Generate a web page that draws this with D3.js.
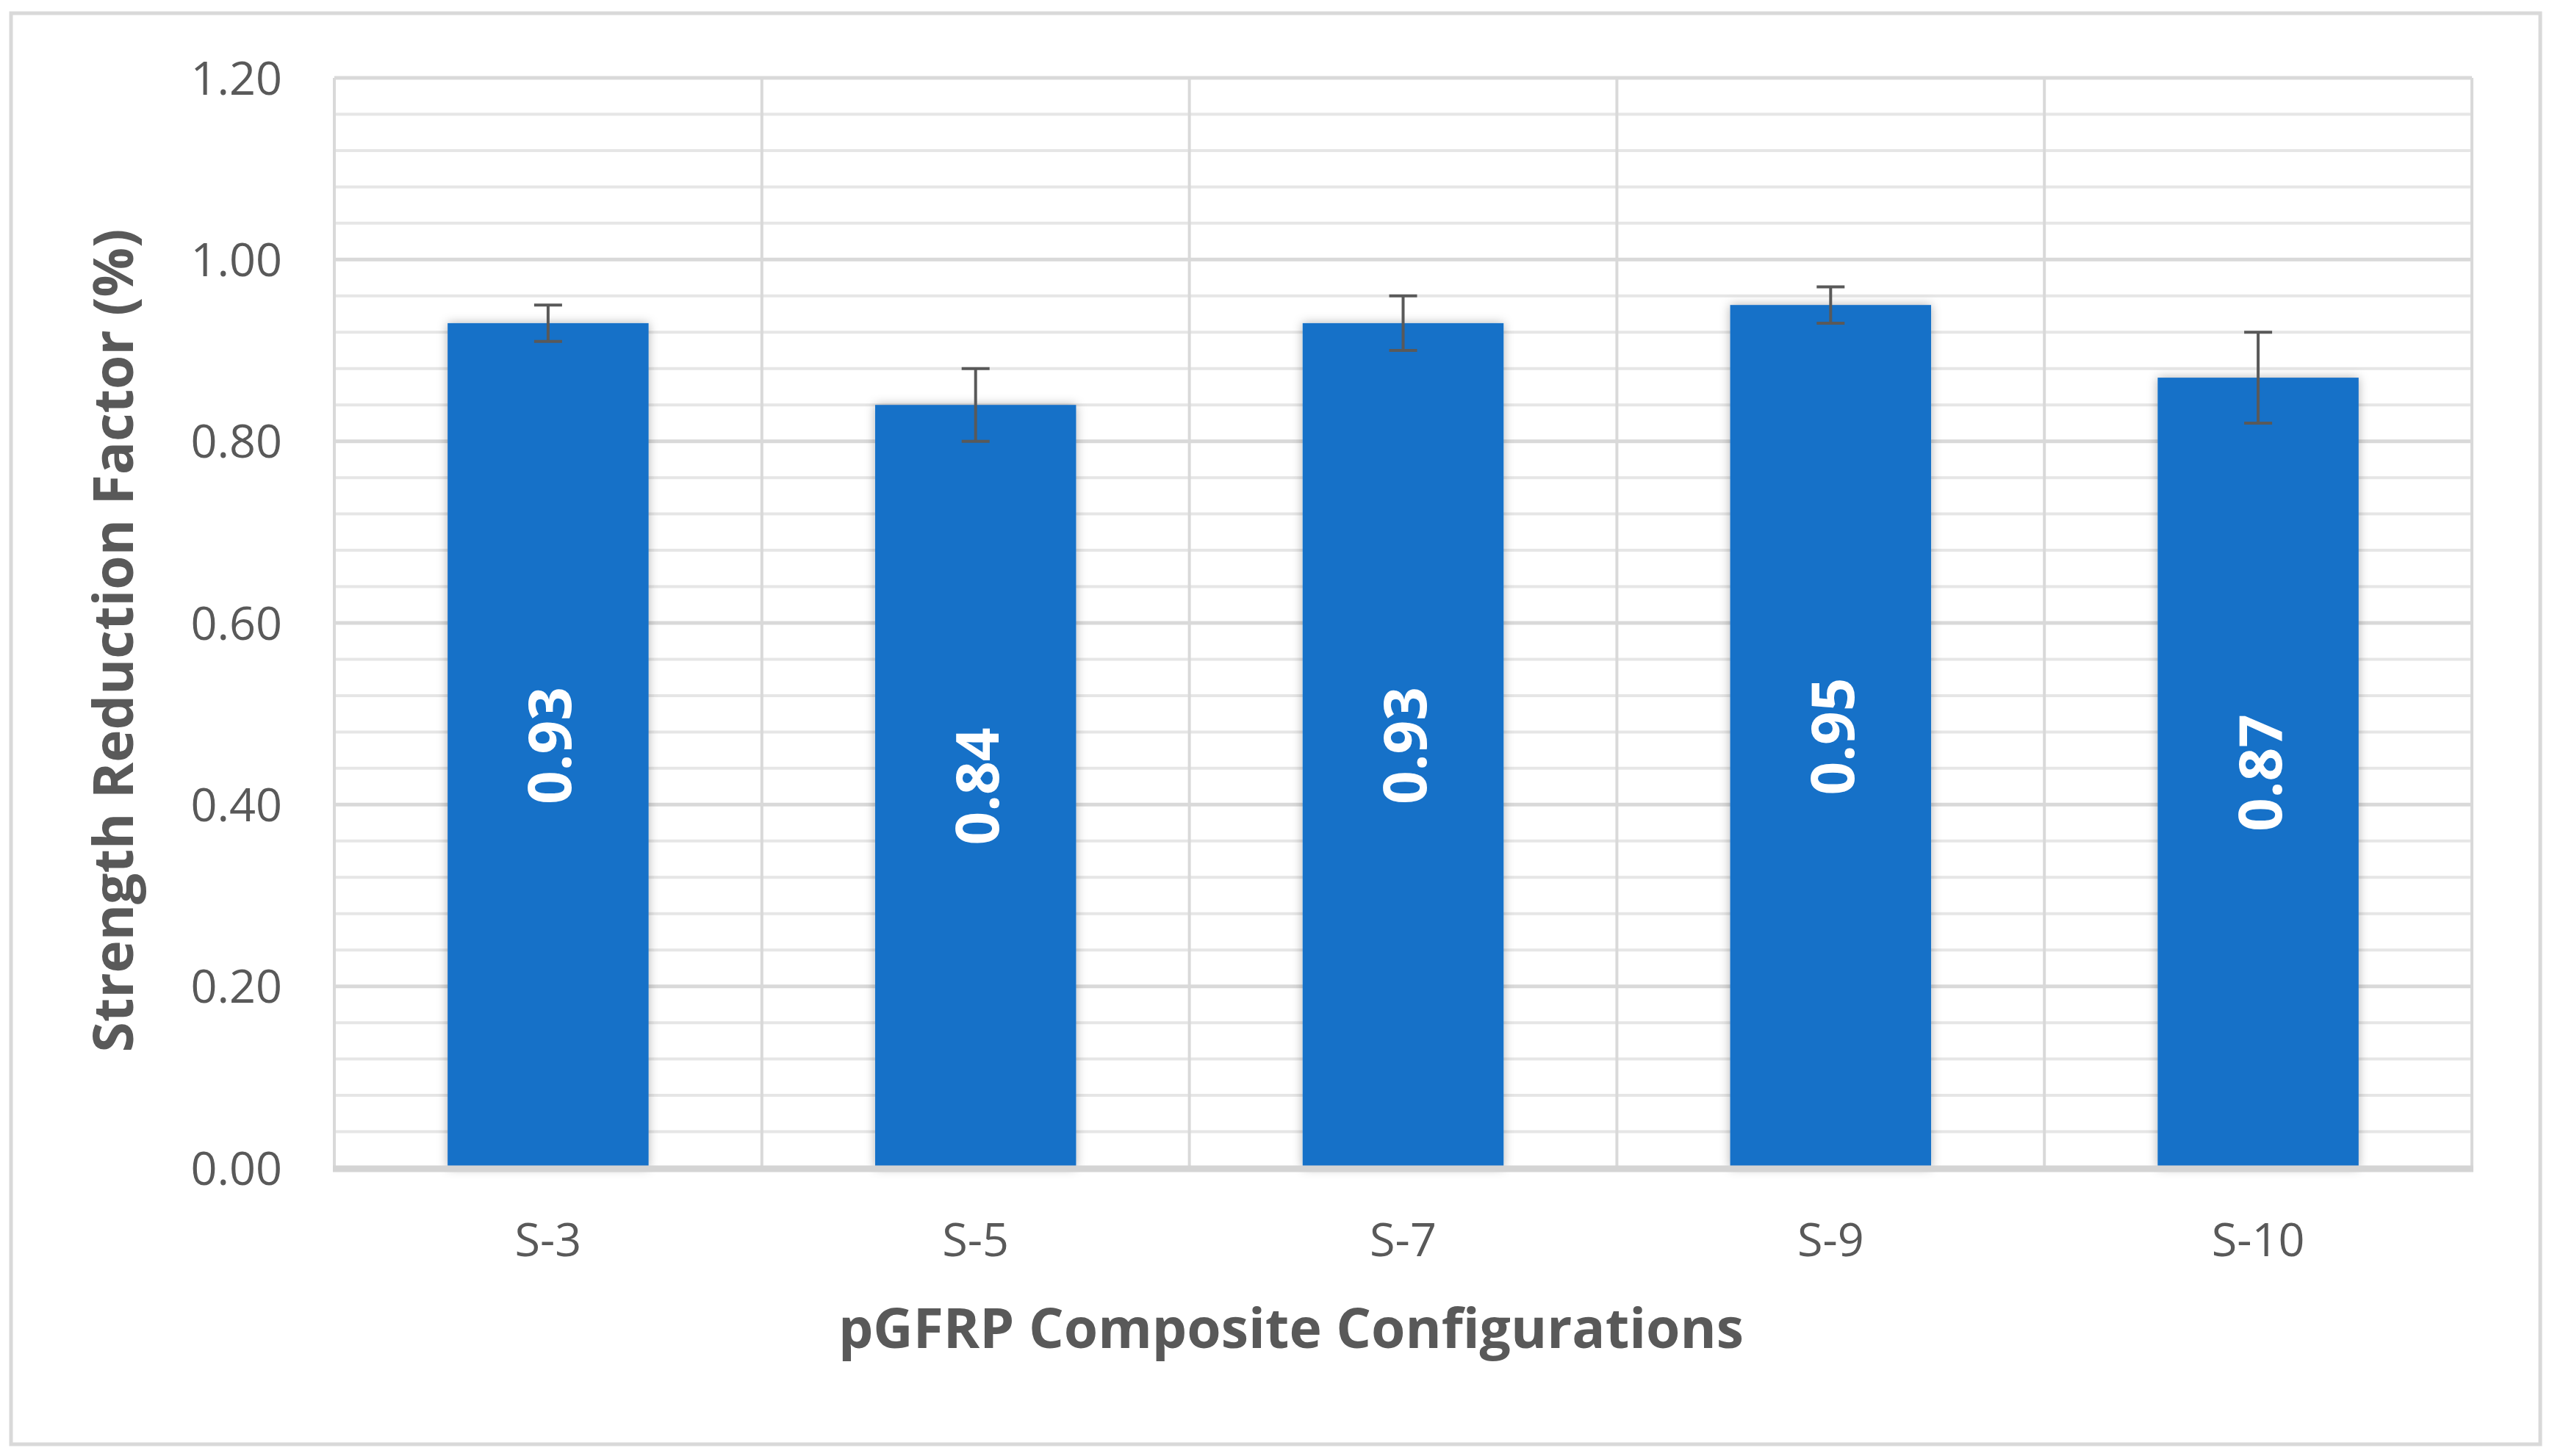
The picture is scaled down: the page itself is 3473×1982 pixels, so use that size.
<!DOCTYPE html>
<html>
<head>
<meta charset="utf-8">
<script src="https://cdn.jsdelivr.net/npm/d3@7"></script>
<style>
  html, body { margin: 0; padding: 0; background: #fff; }
  svg { display: block; }
</style>
</head>
<body>
<script>
// data
const CATEGORIES = ['S-3', 'S-5', 'S-7', 'S-9', 'S-10'];
const VALUES = [0.93, 0.84, 0.93, 0.95, 0.87];
const ERRORS = [0.02, 0.04, 0.03, 0.02, 0.05];
const Y_TICKS = [0, 0.2, 0.4, 0.6, 0.8, 1.0, 1.2];
const Y_TITLE = 'Strength Reduction Factor (%)';
const X_TITLE = 'pGFRP Composite Configurations';

const SVG_DIM = {W: 3473, H: 1982};
const PLOT = {LEFT: 455, RIGHT: 3364, TOP: 106, BOTTOM: 1590};
const FONT = '"Open Sans", "Liberation Sans", sans-serif';
const TEXT_COLOR = '#595959';
const BAR_COLOR = '#1771c8';

const svg = d3.select('body').append('svg')
    .attr('width', SVG_DIM.W)
    .attr('height', SVG_DIM.H);

// shadow under the bars
const defs = svg.append('defs');
defs.append('filter')
    .attr('id', 'shadow')
    .attr('x', '-20%').attr('y', '-10%')
    .attr('width', '140%').attr('height', '120%')
    .append('feDropShadow')
    .attr('dx', 0).attr('dy', 0)
    .attr('stdDeviation', 7)
    .attr('flood-color', '#000')
    .attr('flood-opacity', 0.3);

// chart border
svg.append('rect')
    .attr('x', 15).attr('y', 18)
    .attr('width', 3442).attr('height', 1948)
    .attr('fill', '#fff')
    .attr('stroke', '#d9d9d9')
    .attr('stroke-width', 5);

const x = d3.scaleBand()
    .domain(CATEGORIES)
    .range([PLOT.LEFT, PLOT.RIGHT])
    .paddingInner(0.53)
    .paddingOuter(0.265);

const y = d3.scaleLinear()
    .domain([0, 1.2])
    .range([PLOT.BOTTOM, PLOT.TOP]);

// minor gridlines every 0.04
const minor = d3.range(1, 30).map(i => +(i * 0.04).toFixed(2)).filter(v => !Y_TICKS.includes(v));
svg.append('g').attr('class', 'grid-minor')
    .selectAll('line')
    .data(minor)
    .enter()
    .append('line')
    .attr('x1', PLOT.LEFT).attr('x2', PLOT.RIGHT)
    .attr('y1', d => y(d)).attr('y2', d => y(d))
    .attr('stroke', '#e6e6e6')
    .attr('stroke-width', 4);

// major gridlines
svg.append('g').attr('class', 'grid-major')
    .selectAll('line')
    .data(Y_TICKS.filter(d => d > 0))
    .enter()
    .append('line')
    .attr('x1', PLOT.LEFT).attr('x2', PLOT.RIGHT)
    .attr('y1', d => y(d)).attr('y2', d => y(d))
    .attr('stroke', '#d9d9d9')
    .attr('stroke-width', 5);

// vertical separators between categories (and plot edges)
const step = x.step();
svg.append('g').attr('class', 'grid-vertical')
    .selectAll('line')
    .data(d3.range(CATEGORIES.length + 1))
    .enter()
    .append('line')
    .attr('x1', i => PLOT.LEFT + i * step)
    .attr('x2', i => PLOT.LEFT + i * step)
    .attr('y1', PLOT.TOP).attr('y2', PLOT.BOTTOM)
    .attr('stroke', '#d9d9d9')
    .attr('stroke-width', 4);

// bars
const data = CATEGORIES.map((c, i) => ({cat: c, value: VALUES[i], err: ERRORS[i]}));

svg.append('g').attr('class', 'bars')
    .selectAll('rect')
    .data(data)
    .enter()
    .append('rect')
    .attr('x', d => x(d.cat))
    .attr('y', d => y(d.value))
    .attr('width', x.bandwidth())
    .attr('height', d => y(0) - y(d.value))
    .attr('fill', BAR_COLOR)
    .attr('filter', 'url(#shadow)');

// x axis line
svg.append('line')
    .attr('x1', PLOT.LEFT - 2).attr('x2', PLOT.RIGHT + 2)
    .attr('y1', y(0) + 1).attr('y2', y(0) + 1)
    .attr('stroke', '#d4d4d4')
    .attr('stroke-width', 9);

// error bars
const errG = svg.append('g').attr('class', 'errors')
    .attr('stroke', '#595959')
    .attr('stroke-width', 4);

const capW = 38;
data.forEach(d => {
    const cx = x(d.cat) + x.bandwidth() / 2;
    errG.append('line')
        .attr('x1', cx).attr('x2', cx)
        .attr('y1', y(d.value + d.err)).attr('y2', y(d.value - d.err));
    errG.append('line')
        .attr('x1', cx - capW / 2).attr('x2', cx + capW / 2)
        .attr('y1', y(d.value + d.err)).attr('y2', y(d.value + d.err));
    errG.append('line')
        .attr('x1', cx - capW / 2).attr('x2', cx + capW / 2)
        .attr('y1', y(d.value - d.err)).attr('y2', y(d.value - d.err));
});

// value labels inside bars
svg.append('g').attr('class', 'labels')
    .selectAll('text')
    .data(data)
    .enter()
    .append('text')
    .attr('transform', d => 'translate(' + (x(d.cat) + x.bandwidth() / 2) + ',' + ((y(d.value) + y(0)) / 2) + ') rotate(-90)')
    .attr('text-anchor', 'middle')
    .attr('dominant-baseline', 'central')
    .attr('fill', '#fff')
    .style('font-family', FONT)
    .style('font-weight', 700)
    .style('font-size', '80px')
    .text(d => d3.format('.2f')(d.value));

// y axis
const yAxis = d3.axisLeft(y)
    .tickValues(Y_TICKS)
    .tickFormat(d3.format('.2f'))
    .tickSize(0)
    .tickPadding(0);

const yG = svg.append('g')
    .attr('transform', 'translate(' + 384 + ',0)')
    .call(yAxis);
yG.select('.domain').remove();
yG.selectAll('text')
    .attr('fill', TEXT_COLOR)
    .attr('dy', '0.35em')
    .style('font-family', FONT)
    .style('font-size', '63px');

// x axis
const xAxis = d3.axisBottom(x).tickSize(0).tickPadding(0);
const xG = svg.append('g')
    .attr('transform', 'translate(0,' + 1688 + ')')
    .call(xAxis);
xG.select('.domain').remove();
xG.selectAll('text')
    .attr('fill', TEXT_COLOR)
    .attr('y', 0)
    .attr('dy', '0.35em')
    .style('font-family', FONT)
    .style('font-size', '63px');

// axis titles
svg.append('text')
    .attr('transform', 'translate(152,' + 872 + ') rotate(-90)')
    .attr('text-anchor', 'middle')
    .attr('dominant-baseline', 'central')
    .attr('fill', TEXT_COLOR)
    .style('font-family', FONT)
    .style('font-weight', 700)
    .style('font-size', '75px')
    .text(Y_TITLE);

svg.append('text')
    .attr('x', 1757)
    .attr('y', 1806)
    .attr('text-anchor', 'middle')
    .attr('dominant-baseline', 'central')
    .attr('fill', TEXT_COLOR)
    .style('font-family', FONT)
    .style('font-weight', 700)
    .style('font-size', '75px')
    .text(X_TITLE);
</script>
</body>
</html>
